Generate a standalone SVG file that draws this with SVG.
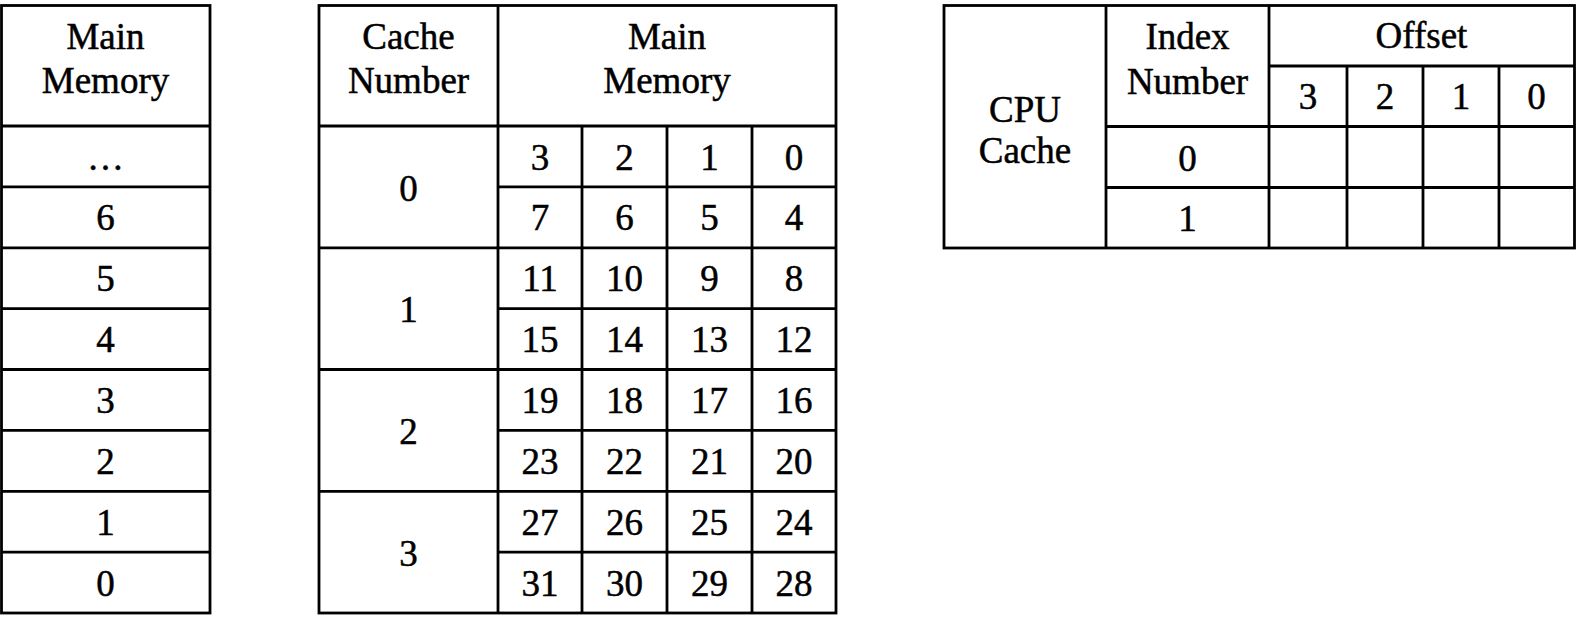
<svg xmlns="http://www.w3.org/2000/svg" width="1578" height="629" viewBox="0 0 1578 629">
<style>
.ln{stroke:#000;stroke-width:2.8;fill:none}
.bx{stroke:#000;stroke-width:2.8;fill:#fff}
text{font-family:"Liberation Serif","Times New Roman",serif;font-size:37px;fill:#000;stroke:#000;stroke-width:0.5;text-anchor:middle}
</style>
<rect width="1578" height="629" fill="#fff"/>
<g id="main-memory">
<rect class="bx" x="1.5" y="5.5" width="208.5" height="607.5"/>
<path class="ln" d="M1.5 126H210M1.5 186.9H210M1.5 247.8H210M1.5 308.6H210M1.5 369.5H210M1.5 430.4H210M1.5 491.3H210M1.5 552.1H210"/>
<text x="105.5" y="49.3">Main</text>
<text x="105.5" y="93.3">Memory</text>
<text x="105.5" y="169.5">…</text>
<text x="105.5" y="230.4">6</text>
<text x="105.5" y="291.2">5</text>
<text x="105.5" y="352.1">4</text>
<text x="105.5" y="413">3</text>
<text x="105.5" y="473.8">2</text>
<text x="105.5" y="534.7">1</text>
<text x="105.5" y="595.6">0</text>
</g>
<g id="cache-mapping">
<rect class="bx" x="319" y="5.5" width="517" height="607.5"/>
<path class="ln" d="M319 126H836M498 5.5V613M582 126V613M667 126V613M752 126V613"/>
<path class="ln" d="M498 186.9H836M319 247.8H836M498 308.6H836M319 369.5H836M498 430.4H836M319 491.3H836M498 552.1H836"/>
<text x="408.5" y="49.3">Cache</text>
<text x="408.5" y="93.3">Number</text>
<text x="667" y="49.3">Main</text>
<text x="667" y="93.3">Memory</text>
<text x="408.5" y="200.9">0</text>
<text x="408.5" y="322.1">1</text>
<text x="408.5" y="443.9">2</text>
<text x="408.5" y="565.6">3</text>
<text x="540" y="169.5">3</text><text x="624.5" y="169.5">2</text><text x="709.5" y="169.5">1</text><text x="794" y="169.5">0</text>
<text x="540" y="230.4">7</text><text x="624.5" y="230.4">6</text><text x="709.5" y="230.4">5</text><text x="794" y="230.4">4</text>
<text x="540" y="291.2">11</text><text x="624.5" y="291.2">10</text><text x="709.5" y="291.2">9</text><text x="794" y="291.2">8</text>
<text x="540" y="352.1">15</text><text x="624.5" y="352.1">14</text><text x="709.5" y="352.1">13</text><text x="794" y="352.1">12</text>
<text x="540" y="413">19</text><text x="624.5" y="413">18</text><text x="709.5" y="413">17</text><text x="794" y="413">16</text>
<text x="540" y="473.8">23</text><text x="624.5" y="473.8">22</text><text x="709.5" y="473.8">21</text><text x="794" y="473.8">20</text>
<text x="540" y="534.7">27</text><text x="624.5" y="534.7">26</text><text x="709.5" y="534.7">25</text><text x="794" y="534.7">24</text>
<text x="540" y="595.6">31</text><text x="624.5" y="595.6">30</text><text x="709.5" y="595.6">29</text><text x="794" y="595.6">28</text>
</g>
<g id="cpu-cache">
<rect class="bx" x="944" y="5.5" width="630.5" height="242.5"/>
<path class="ln" d="M1106 5.5V248M1269 5.5V248M1269 66H1574.5M1347 66V248M1423 66V248M1499 66V248M1106 126.5H1574.5M1106 187.5H1574.5"/>
<text x="1025" y="121.7">CPU</text>
<text x="1025" y="162.7">Cache</text>
<text x="1187.5" y="49.3">Index</text>
<text x="1187.5" y="94">Number</text>
<text x="1421.5" y="48.3">Offset</text>
<text x="1308" y="109">3</text><text x="1385" y="109">2</text><text x="1461" y="109">1</text><text x="1536.5" y="109">0</text>
<text x="1187.5" y="170.5">0</text>
<text x="1187.5" y="231">1</text>
</g>
<g id="connectors"/>
</svg>
